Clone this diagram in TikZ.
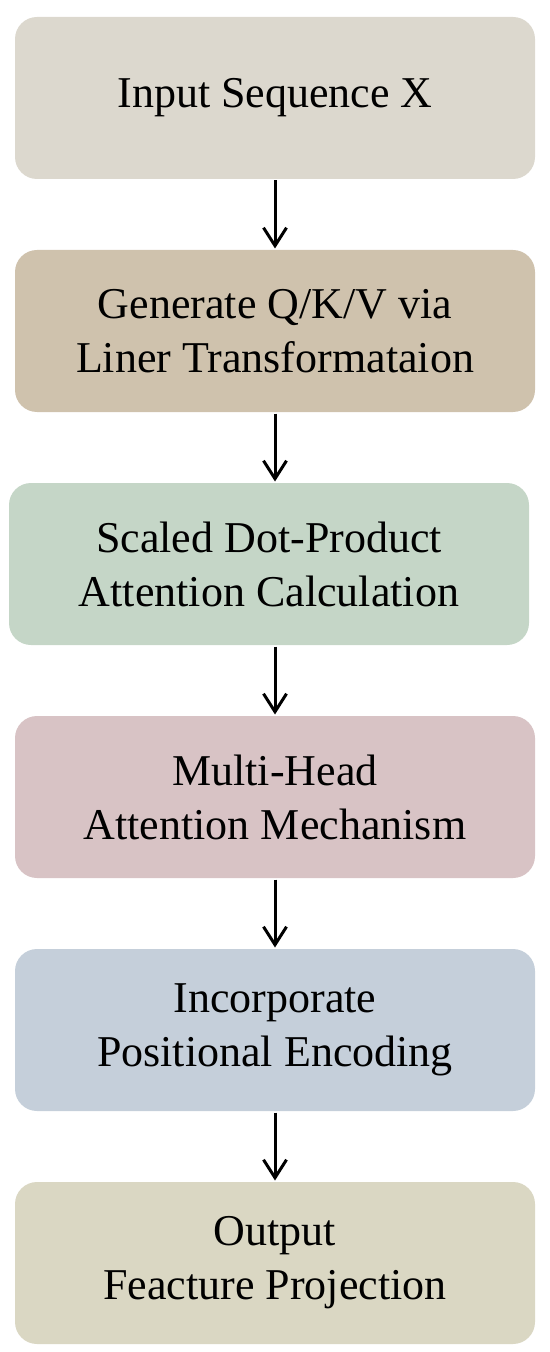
\documentclass[tikz,border=0pt]{standalone}
\usepackage{fontspec}
\setmainfont{Liberation Serif}
\usepackage{tikz}
\usetikzlibrary{positioning, arrows.meta}

\definecolor{inputbox}{HTML}{DCD8CE}
\definecolor{qkvbox}{HTML}{CFC2AD}
\definecolor{dotbox}{HTML}{C5D6C7}
\definecolor{headbox}{HTML}{D8C3C5}
\definecolor{posbox}{HTML}{C5CFDA}
\definecolor{outbox}{HTML}{DAD7C3}

\begin{document}
\begin{tikzpicture}[node distance=34pt, line width=1.5pt, >={Straight Barb[length=9pt,width=11.5pt]}]
		\tikzstyle{stage}=[draw=none, rounded corners=11pt, minimum width=260pt, minimum height=81pt, inner sep=0pt, align=center, text=black, font=\fontsize{22}{27}\selectfont]
		
		\useasboundingbox (0,0) rectangle (275pt,-676pt);
		
		\node[stage, fill=inputbox] (input) at (137.5pt,-49pt) {Input Sequence X};
		\node[stage, fill=qkvbox] (qkv) [below=of input] {Generate Q/K/V via\\Liner Transformataion};
		\node[stage, fill=dotbox] (dot) [below=of qkv, xshift=-3pt] {Scaled Dot-Product\\Attention Calculation};
		\node[stage, fill=headbox] (head) [below=of dot, xshift=3pt] {Multi-Head\\Attention Mechanism};
		\node[stage, fill=posbox] (pos) [below=of head] {Incorporate\\Positional Encoding};
		\node[stage, fill=outbox] (out) [below=of pos] {Output\\Feacture Projection};
		
		\path[->]
		(input) edge (qkv)
		(qkv.south -| input) edge (dot.north -| input)
		(dot.south -| input) edge (head)
		(head) edge (pos)
		(pos) edge (out);
		
	\end{tikzpicture}
\end{document}
